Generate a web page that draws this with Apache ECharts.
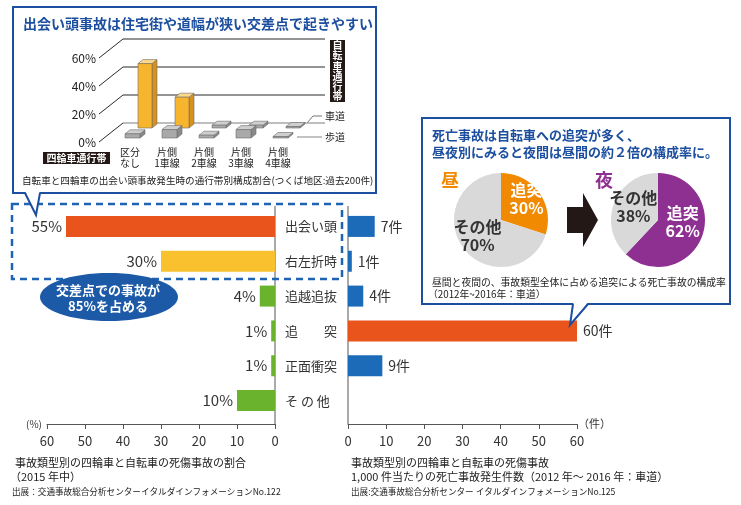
<!DOCTYPE html>
<html><head><meta charset="utf-8">
<script src="https://cdn.jsdelivr.net/npm/echarts@6/dist/echarts.min.js"></script>
<style>html,body{margin:0;padding:0;background:#fff}#c{width:741px;height:505px}</style>
</head><body><div id="c"></div>
<script>
// ---- data ----
const accidentTypes = ['出会い頭', '右左折時', '追越追抜', '追　　突', '正面衝突', 'そ の 他'];
const casualtyShare = [55, 30, 4, 1, 1, 10];          // % (2015)
const deathsPer1000 = [7, 1, 4, 60, 9, null];         // 件 per 1,000
const axisTicks = [0, 10, 20, 30, 40, 50, 60];

const laneCategories = ['区分\nなし', '片側\n1車線', '片側\n2車線', '片側\n3車線', '片側\n4車線'];
const roadwayShare = [46, 22, 2, 2, 1];   // 車道 (back row)
const sidewalkShare = [3, 6, 2, 6, 1];    // 歩道 (front row)
const wallTicks = [0, 20, 40, 60];

const pieNames = ['追突', 'その他'];
const dayShare = [30, 70];
const nightShare = [62, 38];

// ---- styles ----
const FONT = "'Noto Sans CJK JP','Noto Sans',sans-serif";
const BLUE = '#1d4fa0';
const leftColors = ['#e8541c', '#f8c12d', '#6ab42d', '#6ab42d', '#6ab42d', '#6ab42d'];
const rightColors = ['#1b6bb8', '#1b6bb8', '#1b6bb8', '#e8541c', '#1b6bb8', '#1b6bb8'];
const roadwayStyle = ['gold', 'gold', 'gray', 'gray', 'gray'];
const sidewalkStyle = ['gray', 'gray', 'gray', 'gray', 'gray'];
const FACE = {
  gold: {front: '#f7b52e', side: '#d8921c', top: '#fcd98a'},
  gray: {front: '#a9a9a9', side: '#8a8a8a', top: '#cfcfcf'}
};

const chart = echarts.init(document.getElementById('c'));

const bars3d = [];
roadwayShare.forEach((v, i) => bars3d.push({value: [i, v, 1], kind: roadwayStyle[i]}));
sidewalkShare.forEach((v, i) => bars3d.push({value: [i, v, 0], kind: sidewalkStyle[i]}));

function render3dBar(params, api) {
  const ci = api.value(0), v = api.value(1), row = api.value(2);
  const item = bars3d[params.dataIndex];
  const f = FACE[item.kind];
  const base = api.coord([ci, 0]);
  const top = api.coord([ci, v]);
  const ox = row ? 13 : 0, oy = row ? -10 : 0;
  const w = row ? 14 : 15, dx = 5, dy = -4;
  const x0 = base[0] - 9.5 + ox, x1 = x0 + w;
  const yb = base[1] + oy;
  const yt = Math.min(top[1] + oy, yb - 1.5);
  const st = {stroke: '#6b6b6b', lineWidth: 0.6};
  return {type: 'group', children: [
    {type: 'polygon', shape: {points: [[x1, yt], [x1 + dx, yt + dy], [x1 + dx, yb + dy], [x1, yb]]}, style: Object.assign({fill: f.side}, st)},
    {type: 'polygon', shape: {points: [[x0, yt], [x0 + dx, yt + dy], [x1 + dx, yt + dy], [x1, yt]]}, style: Object.assign({fill: f.top}, st)},
    {type: 'polygon', shape: {points: [[x0, yt], [x1, yt], [x1, yb], [x0, yb]]}, style: Object.assign({fill: f.front}, st)}
  ]};
}

function renderWall(params, api) {
  const v = api.value(0);
  const p = api.coord([0, v]);
  const last = api.coord([laneCategories.length - 1, v]);
  const bx = p[0] - 11.5, by = p[1] - 15;
  const fx = p[0] - 35.5, fy = p[1] + 4;
  const isZero = v === 0;
  return {type: 'group', children: [
    {type: 'line', shape: {x1: bx, y1: by, x2: last[0] + 42.5, y2: by}, style: {stroke: isZero ? '#a8a8a8' : '#2a2a2a', lineWidth: isZero ? 1.6 : 1.1}},
    {type: 'line', shape: {x1: fx, y1: fy, x2: bx, y2: by}, style: {stroke: '#2a2a2a', lineWidth: 1}},
    {type: 'text', style: {text: v + '%', x: fx - 3, y: fy, align: 'right', verticalAlign: 'middle', fill: '#222', fontSize: 12, fontFamily: FONT}}
  ]};
}

function txt(text, x, y, size, color, opts) {
  return Object.assign({type: 'text', z: 5, style: Object.assign({text: text, x: x, y: y, fill: color, fontSize: size, fontFamily: FONT, verticalAlign: 'middle'}, opts || {})});
}

const graphics = [
  // separators
  {type: 'line', z: 1, shape: {x1: 275, y1: 206, x2: 275, y2: 424}, style: {stroke: '#555', lineWidth: 1}},
  {type: 'line', z: 1, shape: {x1: 348, y1: 206, x2: 348, y2: 424}, style: {stroke: '#555', lineWidth: 1}},
  // dashed box
  {type: 'rect', z: 3, shape: {x: 12, y: 204, width: 330, height: 75}, style: {fill: null, stroke: '#1f63b5', lineWidth: 2.5, lineDash: [7, 5]}},
  // ellipse note
  {type: 'ellipse', z: 3, shape: {cx: 109, cy: 297, rx: 69, ry: 24}, style: {fill: '#1c59a6'}},
  txt('交差点での事故が', 108, 290, 13, '#fff', {align: 'center', fontWeight: 'bold'}),
  txt('85%を占める', 108, 306, 13, '#fff', {align: 'center', fontWeight: 'bold'}),
  // top-left box
  {type: 'rect', z: 0, shape: {x: 13, y: 7, width: 363, height: 186}, style: {fill: '#fff', stroke: BLUE, lineWidth: 2}},
  {type: 'polygon', z: 4, shape: {points: [[25.5, 192], [36, 214], [39.5, 192]]}, style: {fill: '#fff'}},
  {type: 'polyline', z: 4, shape: {points: [[25, 193], [36, 215], [40, 193]]}, style: {stroke: BLUE, lineWidth: 2, fill: null}},
  txt('出会い頭事故は住宅街や道幅が狭い交差点で起きやすい', 23, 24, 14, BLUE, {fontWeight: 'bold'}),
  txt('自転車と四輪車の出会い頭事故発生時の通行帯別構成割合(つくば地区:過去200件)', 22, 180, 9.6, '#222'),
  {type: 'rect', z: 3, shape: {x: 43, y: 152, width: 67, height: 12}, style: {fill: '#231815'}},
  txt('四輪車通行帯', 76.5, 158, 10, '#fff', {align: 'center', fontWeight: 'bold'}),
  {type: 'rect', z: 3, shape: {x: 330, y: 40, width: 15, height: 62}, style: {fill: '#231815'}},
  txt('自\n転\n車\n通\n行\n帯', 337.5, 71, 10, '#fff', {align: 'center', fontWeight: 'bold', lineHeight: 10.2}),
  {type: 'polyline', z: 3, shape: {points: [[307, 123], [313, 116], [322, 116]]}, style: {stroke: '#777', lineWidth: 1, fill: null}},
  txt('車道', 325, 116, 10, '#222'),
  {type: 'line', z: 3, shape: {x1: 297, y1: 137, x2: 322, y2: 137}, style: {stroke: '#999', lineWidth: 1.2}},
  txt('歩道', 325, 137, 10, '#222'),
  // right box
  {type: 'rect', z: 0, shape: {x: 422, y: 118, width: 308, height: 186}, style: {fill: '#fff', stroke: BLUE, lineWidth: 2}},
  {type: 'polygon', z: 4, shape: {points: [[573.5, 303], [571, 324], [587.5, 303]]}, style: {fill: '#fff'}},
  {type: 'polyline', z: 4, shape: {points: [[573, 304], [570, 325], [588, 304]]}, style: {stroke: BLUE, lineWidth: 2, fill: null}},
  txt('死亡事故は自転車への追突が多く、', 432, 135, 13, BLUE, {fontWeight: 'bold'}),
  txt('昼夜別にみると夜間は昼間の約２倍の構成率に。', 432, 152, 13, BLUE, {fontWeight: 'bold'}),
  txt('昼', 450, 180, 18, '#f18a00', {align: 'center', fontWeight: 'bold'}),
  txt('夜', 604, 180, 18, '#8e3092', {align: 'center', fontWeight: 'bold'}),
  {type: 'polygon', z: 3, shape: {points: [[567, 207], [583, 207], [583, 193], [598, 220], [583, 247], [583, 233], [567, 233]]}, style: {fill: '#231815'}},
  txt('昼間と夜間の、事故類型全体に占める追突による死亡事故の構成率', 432, 282, 9.8, '#222'),
  txt('（2012年~2016年：車道）', 428, 294, 9.8, '#222'),
  // bottom captions
  txt('事故類型別の四輪車と自転車の死傷事故の割合', 15, 463, 11, '#222'),
  txt('（2015 年中）', 10, 477, 11, '#222'),
  txt('出展：交通事故総合分析センターイタルダインフォメーションNo.122', 12, 492, 8.6, '#222'),
  txt('事故類型別の四輪車と自転車の死傷事故', 351, 463, 11, '#222'),
  txt('1,000 件当たりの死亡事故発生件数（2012 年～ 2016 年：車道）', 351, 477, 11, '#222'),
  txt('出展:交通事故総合分析センター イタルダインフォメーションNo.125', 351, 492, 8.6, '#222')
];

const axisCommon = {
  type: 'value', min: 0, max: 60, interval: 10, offset: 6,
  axisLine: {show: true, lineStyle: {color: '#555', width: 1}},
  axisTick: {show: true, length: 5, lineStyle: {color: '#555'}},
  axisLabel: {fontSize: 13, color: '#333', margin: 11, fontFamily: FONT},
  splitLine: {show: false}
};

chart.setOption({
  animation: false,
  textStyle: {fontFamily: FONT},
  graphic: {elements: graphics},
  grid: [
    {left: 47, right: 741 - 275, top: 209, bottom: 87},
    {left: 348, right: 741 - 577, top: 209, bottom: 87},
    {left: 116, width: 185, top: 54, bottom: 505 - 138}
  ],
  xAxis: [
    Object.assign({}, axisCommon, {gridIndex: 0, inverse: true, name: '(%)', nameLocation: 'end', nameGap: 5,
      nameTextStyle: {fontSize: 10, color: '#333', fontFamily: FONT}}),
    Object.assign({}, axisCommon, {gridIndex: 1, name: '（件）', nameLocation: 'end', nameGap: 1,
      nameTextStyle: {fontSize: 11, color: '#333', fontFamily: FONT}}),
    {type: 'category', gridIndex: 2, data: laneCategories, boundaryGap: true,
      axisLine: {show: false}, axisTick: {show: false},
      axisLabel: {fontSize: 10, lineHeight: 11, color: '#222', margin: 9, interval: 0, padding: [0, 9, 0, 0], fontFamily: FONT}}
  ],
  yAxis: [
    {type: 'category', gridIndex: 0, data: accidentTypes, inverse: true, position: 'right',
      axisLine: {show: false}, axisTick: {show: false},
      axisLabel: {margin: 10, fontSize: 13, color: '#333', align: 'left', fontFamily: FONT}},
    {type: 'category', gridIndex: 1, data: accidentTypes, inverse: true,
      axisLine: {show: false}, axisTick: {show: false}, axisLabel: {show: false}},
    {type: 'value', gridIndex: 2, min: 0, max: 60, show: false}
  ],
  series: [
    {type: 'bar', xAxisIndex: 0, yAxisIndex: 0, barWidth: 21,
      data: casualtyShare.map((v, i) => ({value: v, itemStyle: {color: leftColors[i]}})),
      label: {show: true, position: 'left', distance: 4, formatter: '{c}%', fontSize: 15, color: '#333', fontFamily: FONT}},
    {type: 'bar', xAxisIndex: 1, yAxisIndex: 1, barWidth: 21,
      data: deathsPer1000.map((v, i) => ({value: v, itemStyle: {color: rightColors[i]}})),
      label: {show: true, position: 'right', distance: 6, formatter: '{c}件', fontSize: 14, color: '#333', fontFamily: FONT}},
    {type: 'custom', xAxisIndex: 2, yAxisIndex: 2, z: 3, renderItem: renderWall,
      data: wallTicks.map(v => [v])},
    {type: 'custom', xAxisIndex: 2, yAxisIndex: 2, z: 4, renderItem: render3dBar,
      data: bars3d.map(d => d.value)},
    {type: 'pie', center: [501, 220], radius: 47, startAngle: 90, clockwise: true, z: 4,
      label: {show: true, position: 'inside', fontSize: 16, fontWeight: 'bold', lineHeight: 18, formatter: '{b}\n{c}%', fontFamily: FONT},
      labelLine: {show: false}, emphasis: {disabled: true},
      data: [
        {name: pieNames[0], value: dayShare[0], itemStyle: {color: '#f18a00'}, label: {color: '#fff', offset: [4, -6]}},
        {name: pieNames[1], value: dayShare[1], itemStyle: {color: '#d9d9d9'}, label: {color: '#333', offset: [-2, 0]}}
      ]},
    {type: 'pie', center: [658, 220], radius: 47, startAngle: 90, clockwise: true, z: 4,
      label: {show: true, position: 'inside', fontSize: 16, fontWeight: 'bold', lineHeight: 18, formatter: '{b}\n{c}%', fontFamily: FONT},
      labelLine: {show: false}, emphasis: {disabled: true},
      data: [
        {name: pieNames[0], value: nightShare[0], itemStyle: {color: '#8e3092'}, label: {color: '#fff', offset: [0, -8]}},
        {name: pieNames[1], value: nightShare[1], itemStyle: {color: '#d9d9d9'}, label: {color: '#333', offset: [0, -3]}}
      ]}
  ]
});
</script></body></html>
